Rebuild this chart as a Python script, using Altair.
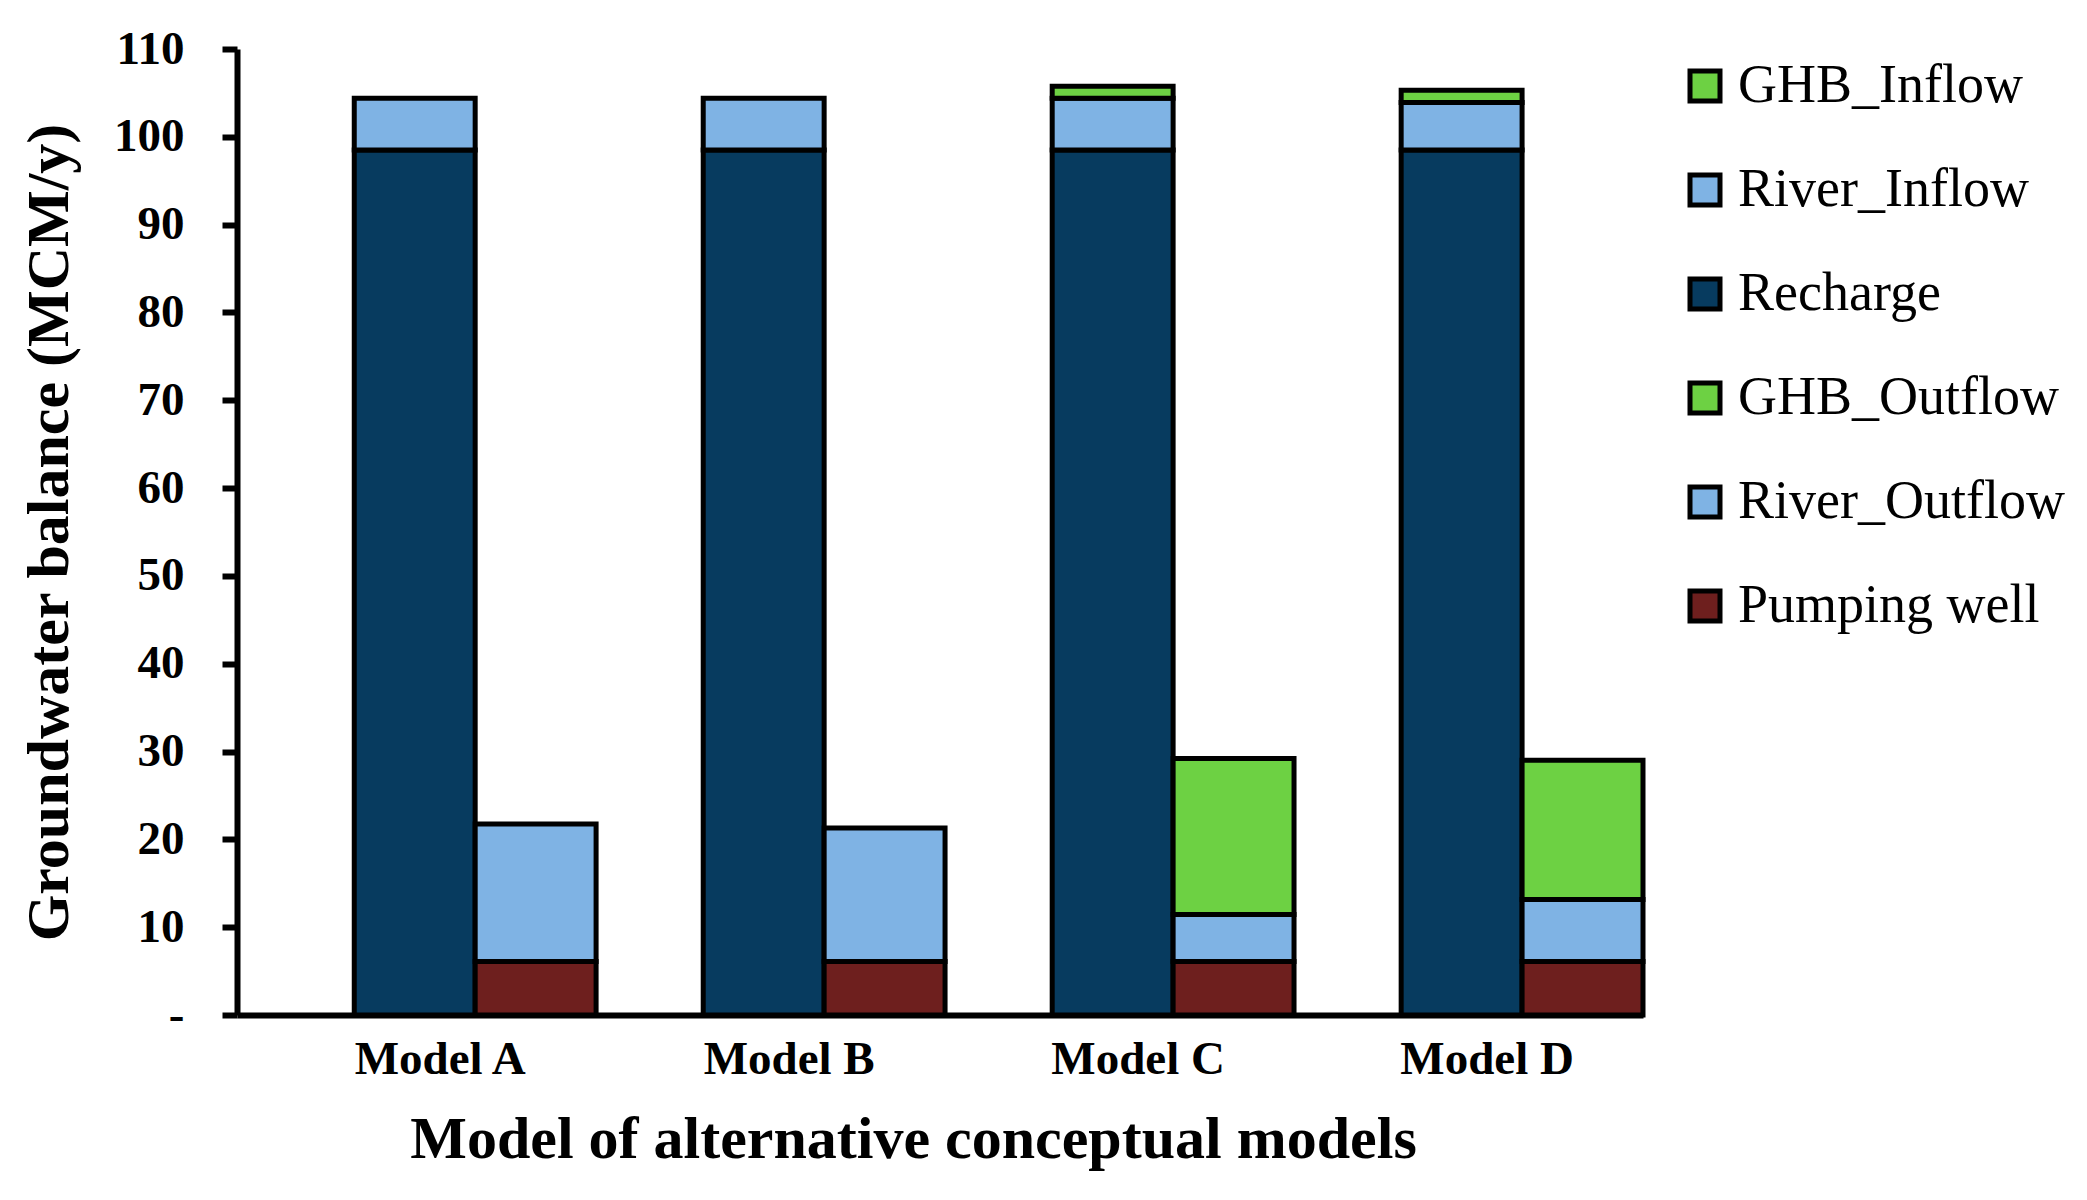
import altair as alt
import pandas as pd

models = ["Model A", "Model B", "Model C", "Model D"]
components = ["GHB_Inflow", "River_Inflow", "Recharge", "GHB_Outflow", "River_Outflow", "Pumping well"]
colors = ["#6DD143", "#7FB3E4", "#073B5F", "#6DD143", "#7FB3E4", "#6E1F1E"]

recharge = [98.5, 98.5, 98.5, 98.5]
river_inflow = [5.9, 5.9, 5.9, 5.4]
ghb_inflow = [0.0, 0.0, 1.35, 1.4]
pumping_well = [6.1, 6.1, 6.1, 6.1]
river_outflow = [15.65, 15.2, 5.35, 7.05]
ghb_outflow = [0.0, 0.0, 17.75, 15.85]

series = [
    ("Recharge", "Inflow", 0, recharge),
    ("River_Inflow", "Inflow", 1, river_inflow),
    ("GHB_Inflow", "Inflow", 2, ghb_inflow),
    ("Pumping well", "Outflow", 0, pumping_well),
    ("River_Outflow", "Outflow", 1, river_outflow),
    ("GHB_Outflow", "Outflow", 2, ghb_outflow),
]
rows = []
for comp, side, order, vals in series:
    for m, v in zip(models, vals):
        if v > 0:
            rows.append({"model": m, "side": side, "component": comp, "order": order, "value": v})
df = pd.DataFrame(rows)

FONT = "Liberation Serif"

chart = alt.Chart(df).mark_bar(stroke="black", strokeWidth=5).encode(
    x=alt.X("model:N", sort=models,
            scale=alt.Scale(paddingInner=0.307, paddingOuter=0.168, align=1),
            axis=alt.Axis(title="Model of alternative conceptual models", labelAngle=0,
                          labelFont=FONT, labelFontSize=47, labelFontWeight="bold", labelColor="black",
                          ticks=False, tickSize=0, labelPadding=21, labelOffset=-35,
                          domainColor="black", domainWidth=6,
                          titleFont=FONT, titleFontSize=60, titleFontWeight="bold", titleColor="black",
                          titleX=676, titleY=142, titleAlign="center", titleBaseline="alphabetic")),
    xOffset=alt.XOffset("side:N", sort=["Inflow", "Outflow"],
                        scale=alt.Scale(paddingInner=0, paddingOuter=0)),
    y=alt.Y("value:Q", stack="zero",
            scale=alt.Scale(domain=[0, 110], nice=False),
            axis=alt.Axis(title="Groundwater balance (MCM/y)", values=list(range(0, 111, 10)),
                          labelExpr="datum.value == 0 ? '-' : datum.label",
                          labelFont=FONT, labelFontSize=47, labelFontWeight="bold", labelColor="black",
                          tickSize=15, tickWidth=6, tickColor="black", labelPadding=38,
                          domainColor="black", domainWidth=6, grid=False,
                          titleFont=FONT, titleFontSize=60, titleFontWeight="bold", titleColor="black",
                          titleX=-188, titleY=483, titleAngle=270, titleAlign="center",
                          titleBaseline="middle")),
    color=alt.Color("component:N",
                    scale=alt.Scale(domain=components, range=colors),
                    legend=alt.Legend(title=None, orient="none", legendX=1441, legendY=10,
                                      symbolType="square", symbolSize=900,
                                      symbolStrokeColor="black", symbolStrokeWidth=5,
                                      labelFont=FONT, labelFontSize=54, labelColor="black",
                                      rowPadding=50, labelOffset=6, labelLimit=600)),
    order=alt.Order("order:Q", sort="ascending"),
).properties(
    width=1406, height=966,
    autosize=alt.AutoSizeParams(type="none"),
    padding={"left": 229, "top": 41, "right": 436, "bottom": 177},
).configure_view(stroke=None)

chart.save("out.html", embed_options={"renderer": "svg", "actions": False})
